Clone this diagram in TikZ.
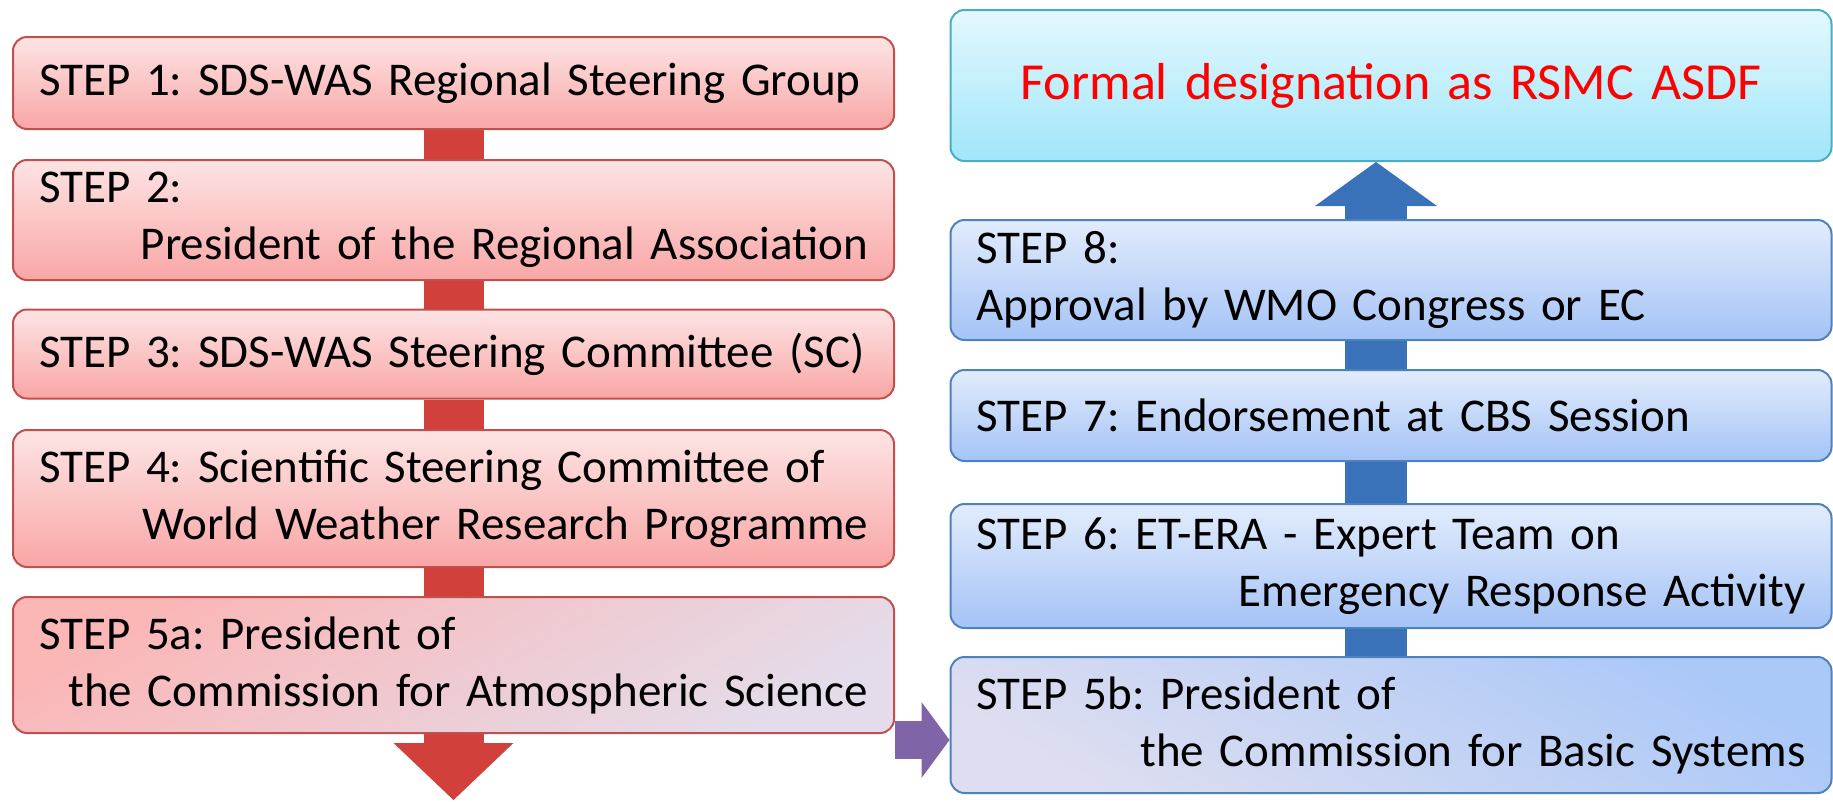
\documentclass[tikz,border=0pt]{standalone}
\usepackage{fontspec}
\setmainfont{Carlito}
\frenchspacing
\usetikzlibrary{arrows.meta}
\definecolor{redline}{RGB}{192,80,77}
\definecolor{redtop}{RGB}{253,228,228}
\definecolor{redbot}{RGB}{249,166,166}
\definecolor{redmid}{RGB}{251,182,182}
\definecolor{redshaft}{RGB}{210,64,60}
\definecolor{blueline}{RGB}{79,129,189}
\definecolor{bluetop}{RGB}{226,236,252}
\definecolor{bluebot}{RGB}{164,195,246}
\definecolor{bluemid}{RGB}{170,200,248}
\definecolor{blueshaft}{RGB}{58,114,186}
\definecolor{cyanline}{RGB}{75,172,198}
\definecolor{cyantop}{RGB}{228,248,254}
\definecolor{cyanbot}{RGB}{160,230,250}
\definecolor{lavender}{RGB}{228,220,234}
\definecolor{lavblue}{RGB}{222,222,240}
\definecolor{purplearrow}{RGB}{128,100,168}
\begin{document}
\begin{tikzpicture}[x=1pt, y=-1pt,
    stepbox/.style={rectangle, rounded corners=14pt, line width=2pt, minimum width=881pt,
        text width=829pt, inner xsep=26pt, inner ysep=0pt, align=left,
        font=\fontsize{47}{57}\selectfont},
    redbox/.style={stepbox, draw=redline, top color=redtop, bottom color=redbot},
    bluebox/.style={stepbox, draw=blueline, top color=bluetop, bottom color=bluebot},
    redflow/.style={draw=redshaft, line width=60pt},
    blueflow/.style={draw=blueshaft, line width=62pt}]
        \useasboundingbox (0,0) rectangle (1833,801);

        % Nodes
        \node[redbox, minimum height=92pt]  at (453.5, 83)    (s1)  {STEP 1: SDS-WAS Regional Steering Group};
        \node[redbox, minimum height=120pt] at (453.5, 220)   (s2)  {STEP 2:\\\hspace*{\fill}President of the Regional Association};
        \node[redbox, minimum height=89pt]  at (453.5, 354)   (s3)  {STEP 3: SDS-WAS Steering Committee (SC)};
        \node[redbox, minimum height=137pt] at (453.5, 498.5) (s4)  {STEP 4: Scientific Steering Committee of\\\hspace*{\fill}World Weather Research Programme};
        \node[redbox, minimum height=136pt, top color=redmid, bottom color=lavender, shading angle=30] at (453.5, 665) (s5a) {STEP 5a: President of\\\hspace*{\fill}the Commission for Atmospheric Science};

        \node[stepbox, draw=cyanline, top color=cyantop, bottom color=cyanbot, minimum height=151pt,
              align=center, text=red, font=\fontsize{52}{60}\selectfont] at (1391, 85.5) (fd) {Formal designation as RSMC ASDF};
        \node[bluebox, minimum height=120pt] at (1391, 280)   (s8)  {STEP 8:\\Approval by WMO Congress or EC};
        \node[bluebox, minimum height=91pt]  at (1391, 415.5) (s7)  {STEP 7: Endorsement at CBS Session};
        \node[bluebox, minimum height=124pt] at (1391, 566)   (s6)  {STEP 6: ET-ERA - Expert Team on\\\hspace*{\fill}Emergency Response Activity};
        \node[bluebox, minimum height=136pt, top color=bluemid, bottom color=lavblue, shading angle=-30] at (1391, 725) (s5b) {STEP 5b: President of\\\hspace*{\fill}the Commission for Basic Systems};

        \coordinate (redend) at (453.5, 800);

        % Flow
        \draw[redflow] (s1) -- (s2);
        \draw[redflow] (s2.south) -- (s3.north);
        \draw[redflow] (s3.south) -- (s4.north);
        \draw[redflow] (s4.south) -- (s5a.north);
        \draw[redflow, -{Triangle[width=120pt, length=57pt, line width=0pt]}] (s5a.south) -- (redend);

        \draw[draw=purplearrow, line width=38pt, -{Triangle[width=76pt, length=28pt, line width=0pt]}] ([yshift=-75pt]s5a.east) -- ([yshift=-15pt]s5b.west);

        \draw[blueflow] ([xshift=-15pt]s5b.north) -- ([xshift=-15pt]s6.south);
        \draw[blueflow] ([xshift=-15pt]s6.north) -- ([xshift=-15pt]s7.south);
        \draw[blueflow] ([xshift=-15pt]s7.north) -- ([xshift=-15pt]s8.south);
        \draw[blueflow, -{Triangle[width=122pt, length=44pt, line width=0pt]}] ([xshift=-15pt]s8.north) -- ([xshift=-15pt]fd.south);
    \end{tikzpicture}
\end{document}
